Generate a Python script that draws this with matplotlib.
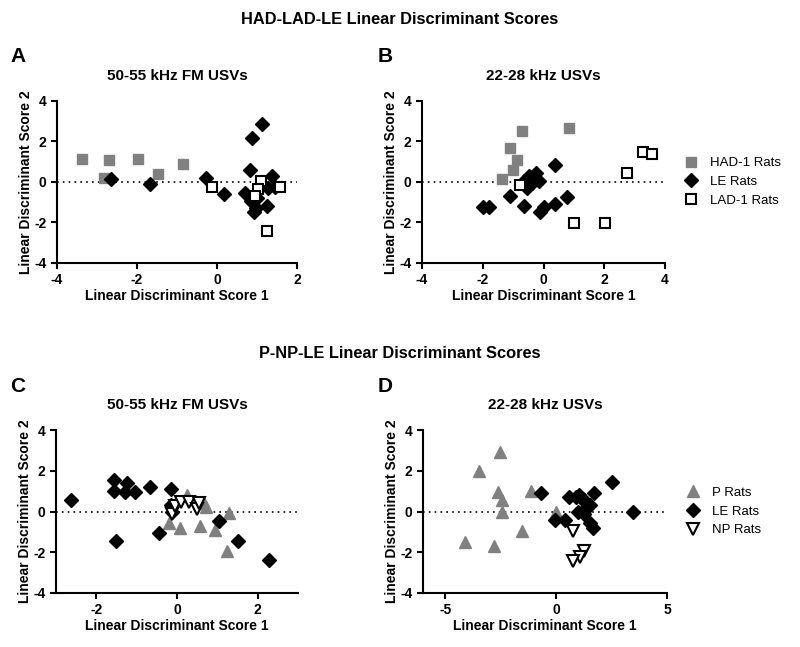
import matplotlib
matplotlib.use("Agg")
import matplotlib.pyplot as plt

plt.rcParams['font.family'] = ['Liberation Sans', 'DejaVu Sans']
plt.rcParams['font.weight'] = 'bold'
plt.rcParams['axes.unicode_minus'] = False

GRAY = '#808080'

# Panel A: HAD-LAD-LE, 50-55 kHz FM
a_had_x = [-3.38, -2.69, -1.97, -1.47, -0.86, -2.83]
a_had_y = [1.12, 1.07, 1.12, 0.41, 0.87, 0.21]
a_le_x = [-2.65, -1.68, -0.28, 0.18, 1.13, 0.88, 0.83, 0.70, 0.93, 0.98, 0.93, 1.24, 1.37, 1.45, 1.28, 1.00, 0.85]
a_le_y = [0.16, -0.08, 0.18, -0.58, 2.88, 2.16, 0.58, -0.53, -0.91, -1.27, -1.46, -1.19, 0.30, -0.25, -0.28, -0.77, -0.95]
a_lad_x = [-0.13, 1.10, 1.03, 1.58, 1.24, 0.95]
a_lad_y = [-0.25, 0.05, -0.33, -0.23, -2.42, -0.69]

# Panel B: HAD-LAD-LE, 22-28 kHz
b_had_x = [-0.72, 0.85, -1.11, -0.88, -1.02, -1.38]
b_had_y = [2.52, 2.65, 1.66, 1.07, 0.61, 0.16]
b_le_x = [-1.99, -1.78, -1.11, -0.64, -0.10, 0.01, 0.39, 0.39, 0.79, -0.48, -0.32, -0.15, -0.53, -0.37, -0.64, -0.26]
b_le_y = [-1.22, -1.22, -0.69, -1.19, -1.46, -1.23, -1.10, 0.84, -0.72, 0.30, 0.21, 0.05, -0.28, -0.03, 0.05, 0.46]
b_lad_x = [-0.79, 0.99, 2.02, 2.76, 3.27, 3.57]
b_lad_y = [-0.16, -2.04, -2.04, 0.46, 1.48, 1.37]

# Panel C: P-NP-LE, 50-55 kHz FM
c_p_x = [0.25, -0.21, 0.07, 0.56, 0.68, 0.72, 0.95, 1.30, 1.23]
c_p_y = [0.79, -0.56, -0.80, -0.72, 0.43, 0.21, -0.93, -0.08, -1.95]
c_le_x = [-2.63, -1.56, -1.56, -1.25, -1.28, -1.03, -0.66, -0.15, -1.52, -0.44, -0.15, -0.12, 1.03, 1.52, 2.29]
c_le_y = [0.54, 1.56, 1.03, 1.39, 0.95, 0.98, 1.20, 1.11, -1.43, -1.07, 0.30, -0.03, -0.48, -1.43, -2.36]
c_np_x = [-0.12, -0.05, 0.10, 0.30, 0.50, 0.55]
c_np_y = [-0.10, 0.25, 0.45, 0.45, 0.10, 0.40]

# Panel D: P-NP-LE, 22-28 kHz
d_p_x = [-2.52, -3.47, -2.64, -2.45, -2.42, -4.10, -2.79, -1.52, -1.14, 0.00]
d_p_y = [2.92, 1.97, 0.95, 0.54, -0.03, -1.51, -1.67, -0.97, 1.03, -0.03]
d_le_x = [-0.69, -0.05, 0.41, 0.60, 0.90, 1.04, 1.20, 1.01, 1.26, 1.38, 1.53, 1.71, 1.53, 1.68, 2.54, 3.48, 1.30]
d_le_y = [0.92, -0.41, -0.41, 0.70, 0.70, 0.79, 0.62, -0.03, -0.11, 0.21, 0.30, 0.90, -0.57, -0.80, 1.44, 0.00, 0.46]
d_np_x = [0.78, 1.28, 1.08, 0.75]
d_np_y = [-0.97, -1.95, -2.21, -2.41]

fig = plt.figure(figsize=(8, 6.47), dpi=100)

W, H = 800, 647
def ax_at(l, t, r, b):
    return fig.add_axes([l / W, 1 - b / H, (r - l) / W, (b - t) / H])

axA = ax_at(57, 101, 297, 263)
axB = ax_at(422, 101, 665, 263)
axC = ax_at(56, 430, 298, 593)
axD = ax_at(423, 430, 667, 593)

sq = dict(marker='s', markersize=7.5, linestyle='none')
dm = dict(marker='D', markersize=7, linestyle='none')
tu = dict(marker='^', markersize=9, linestyle='none')
td = dict(marker='v', markersize=9, linestyle='none')

def style(ax, xlim, xticks, title):
    ax.axhline(0, color='black', linestyle=(0, (1, 2.5)), linewidth=1.2, zorder=0)
    ax.set_xlim(*xlim)
    ax.set_ylim(-4, 4)
    ax.set_xticks(xticks)
    ax.set_yticks([-4, -2, 0, 2, 4])
    ax.spines['top'].set_visible(False)
    ax.spines['right'].set_visible(False)
    for s in ('left', 'bottom'):
        ax.spines[s].set_linewidth(1.5)
    ax.tick_params(width=1.5, length=4, labelsize=10)
    for lab in ax.get_xticklabels() + ax.get_yticklabels():
        lab.set_fontweight('bold')
    ax.set_xlabel('Linear Discriminant Score 1', fontsize=10, fontweight='bold', labelpad=1)
    ax.set_ylabel('Linear Discriminant Score 2', fontsize=10, fontweight='bold', labelpad=1)
    ax.set_title(title, fontsize=11, fontweight='bold', pad=15)

leg_kw = dict(loc='center left', bbox_to_anchor=(1.005, 0.5), frameon=False,
              handletextpad=0.4, labelspacing=0.5, prop={'weight': 'normal', 'size': 9.5})

# A
axA.plot(a_had_x, a_had_y, color=GRAY, **sq)
axA.plot(a_le_x, a_le_y, color='black', **dm)
axA.plot(a_lad_x, a_lad_y, markerfacecolor='white', markeredgecolor='black', markeredgewidth=1.5, **sq)
style(axA, (-4, 2), [-4, -2, 0, 2], '50-55 kHz FM USVs')

# B
axB.plot(b_had_x, b_had_y, color=GRAY, label='HAD-1 Rats', **sq)
axB.plot(b_le_x, b_le_y, color='black', label='LE Rats', **dm)
axB.plot(b_lad_x, b_lad_y, markerfacecolor='white', markeredgecolor='black', markeredgewidth=1.5, label='LAD-1 Rats', **sq)
style(axB, (-4, 4), [-4, -2, 0, 2, 4], '22-28 kHz USVs')
axB.legend(**leg_kw)

# C
axC.plot(c_p_x, c_p_y, color=GRAY, **tu)
axC.plot(c_le_x, c_le_y, color='black', **dm)
axC.plot(c_np_x, c_np_y, markerfacecolor='white', markeredgecolor='black', markeredgewidth=1.5, **td)
style(axC, (-3, 3), [-2, 0, 2], '50-55 kHz FM USVs')

# D
axD.plot(d_p_x, d_p_y, color=GRAY, label='P Rats', **tu)
axD.plot(d_le_x, d_le_y, color='black', label='LE Rats', **dm)
axD.plot(d_np_x, d_np_y, markerfacecolor='white', markeredgecolor='black', markeredgewidth=1.5, label='NP Rats', **td)
style(axD, (-6, 5), [-5, 0, 5], '22-28 kHz USVs')
axD.legend(**leg_kw)

fig.text(0.5, 1 - 20 / H, 'HAD-LAD-LE Linear Discriminant Scores', ha='center', va='center',
         fontsize=11.8, fontweight='bold')
fig.text(0.5, 1 - 353 / H, 'P-NP-LE Linear Discriminant Scores', ha='center', va='center',
         fontsize=11.8, fontweight='bold')
for letter, x, y in [('A', 18, 56), ('B', 385, 56), ('C', 18, 386), ('D', 385, 386)]:
    fig.text(x / W, 1 - y / H, letter, ha='center', va='center', fontsize=15, fontweight='bold')

fig.savefig('out.png', dpi=100)
